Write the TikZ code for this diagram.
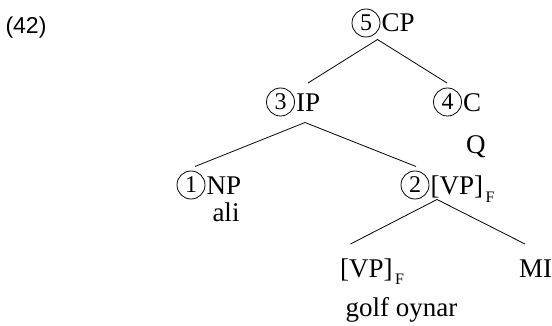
\documentclass[tikz,border=0pt]{standalone}
\usepackage{fontspec}
\setmainfont{Liberation Serif}
\newfontfamily\exfont{Liberation Sans}
\begin{document}
\begin{tikzpicture}[x=1pt,y=-1pt,
  cat/.style={font=\fontsize{27}{30}\selectfont, inner sep=0pt, anchor=base west},
  word/.style={font=\fontsize{27}{30}\selectfont, inner sep=0pt, anchor=base},
  sub/.style={font=\fontsize{16}{18}\selectfont, inner sep=0pt, anchor=base west},
  num/.style={circle, draw, line width=0.8pt, minimum size=28pt, inner sep=0pt,
              font=\fontsize{24}{26}\selectfont},
  branch/.style={line width=0.8pt}]
\useasboundingbox (0,0) rectangle (552,326);

% example number
\node[font=\exfont\fontsize{23}{26}\selectfont, inner sep=0pt] (ex) at (26,27.5) {(42)};

% CP
\node[num] (n5) at (366,23) {5};
\node[cat] (cp) at (381.5,32) {CP};

% IP and C
\node[num] (n3) at (280.5,102) {3};
\node[cat] (ip) at (296,112) {IP};
\node[num] (n4) at (447.5,102) {4};
\node[cat] (c) at (463,112) {C};
\node[cat] (q) at (466,154) {Q};

% NP and VP
\node[num] (n1) at (191,185) {1};
\node[cat] (np) at (206.5,195) {NP};
\node[word] (ali) at (226,222) {ali};
\node[num] (n2) at (415,185) {2};
\node[cat] (vp) at (430.5,195) {[VP]};
\node[sub] (vpf) at (485.5,202.5) {F};

% lower VP and MI
\node[cat] (vp2) at (340,277) {[VP]};
\node[sub] (vp2f) at (395,284.5) {F};
\node[word] (golf) at (401.5,316) {golf oynar};
\node[cat] (mi) at (519,277) {MI};

% branch end points
\coordinate (cp-b) at (377.5,39.5);
\coordinate (ip-t) at (308,83);
\coordinate (c-t) at (447,83);
\coordinate (ip-b) at (305,122.5);
\coordinate (np-t) at (195,166.5);
\coordinate (vp-t) at (416,166.5);
\coordinate (vp-b) at (437,199.5);
\coordinate (vp2-t) at (350.5,244);
\coordinate (mi-t) at (525,244);

\draw[branch] (ip-t) -- (cp-b) -- (c-t);
\draw[branch] (np-t) -- (ip-b) -- (vp-t);
\draw[branch] (vp2-t) -- (vp-b) -- (mi-t);
\end{tikzpicture}
\end{document}
